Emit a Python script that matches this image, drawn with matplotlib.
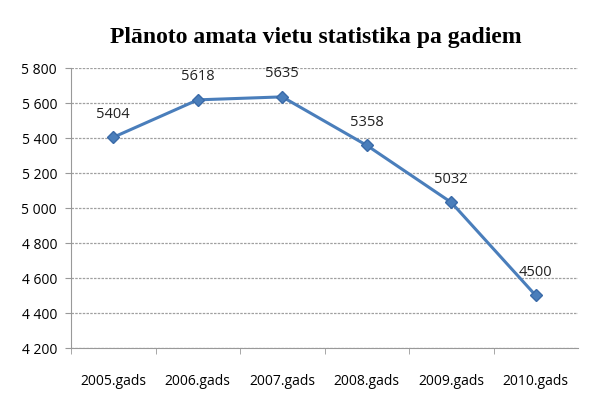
import matplotlib
matplotlib.use("Agg")
import matplotlib.pyplot as plt
from matplotlib.ticker import FuncFormatter, MultipleLocator

years = ["2005.gads", "2006.gads", "2007.gads", "2008.gads", "2009.gads", "2010.gads"]
vacancies = [5404, 5618, 5635, 5358, 5032, 4500]

plt.rcParams['font.family'] = ['Open Sans', 'DejaVu Sans']

fig = plt.figure(figsize=(6.02, 4.10), dpi=100)
ax = fig.add_axes([71 / 602, 1 - 349 / 410, (578 - 71) / 602, (349 - 69) / 410])

x = list(range(len(years)))
ax.plot(x, vacancies, color="#4a7ebb", lw=2.2, marker="D", ms=6,
        markerfacecolor="#4a7ebb", markeredgecolor="#3a6aa8", zorder=3)
for xi, v in zip(x, vacancies):
    ax.annotate(str(v), (xi, v), xytext=(0, 12), textcoords="offset points",
                ha="center", va="bottom", fontsize=10.5, color="#222222")

ax.set_xlim(-0.5, len(years) - 0.5)
ax.set_ylim(4200, 5800)
ax.yaxis.set_major_locator(MultipleLocator(200))
ax.yaxis.set_major_formatter(FuncFormatter(lambda v, p: f"{int(v):,}".replace(",", " ")))
ax.set_xticks(x)
ax.set_xticklabels(years)
ax.set_xticks([i + 0.5 for i in x[:-1]] + [-0.5], minor=True)
ax.tick_params(axis="x", which="major", length=0, pad=18, labelsize=10)
ax.tick_params(axis="x", which="minor", length=4, color="#999999")
ax.tick_params(axis="y", length=4, color="#999999", labelsize=10, pad=6)
ax.grid(axis="y", color="#a0a0a0", lw=0.9, ls=(0, (2, 1)))
ax.set_axisbelow(True)
for s in ["top", "right"]:
    ax.spines[s].set_visible(False)
for s in ["left", "bottom"]:
    ax.spines[s].set_color("#999999")
    ax.spines[s].set_linewidth(0.8)

fig.text(316 / 602, 1 - 37 / 410, "Plānoto amata vietu statistika pa gadiem",
         ha="center", va="center", fontsize=17, fontweight="bold",
         family=["Liberation Serif", "DejaVu Serif"])

fig.savefig("out.png", dpi=100)
